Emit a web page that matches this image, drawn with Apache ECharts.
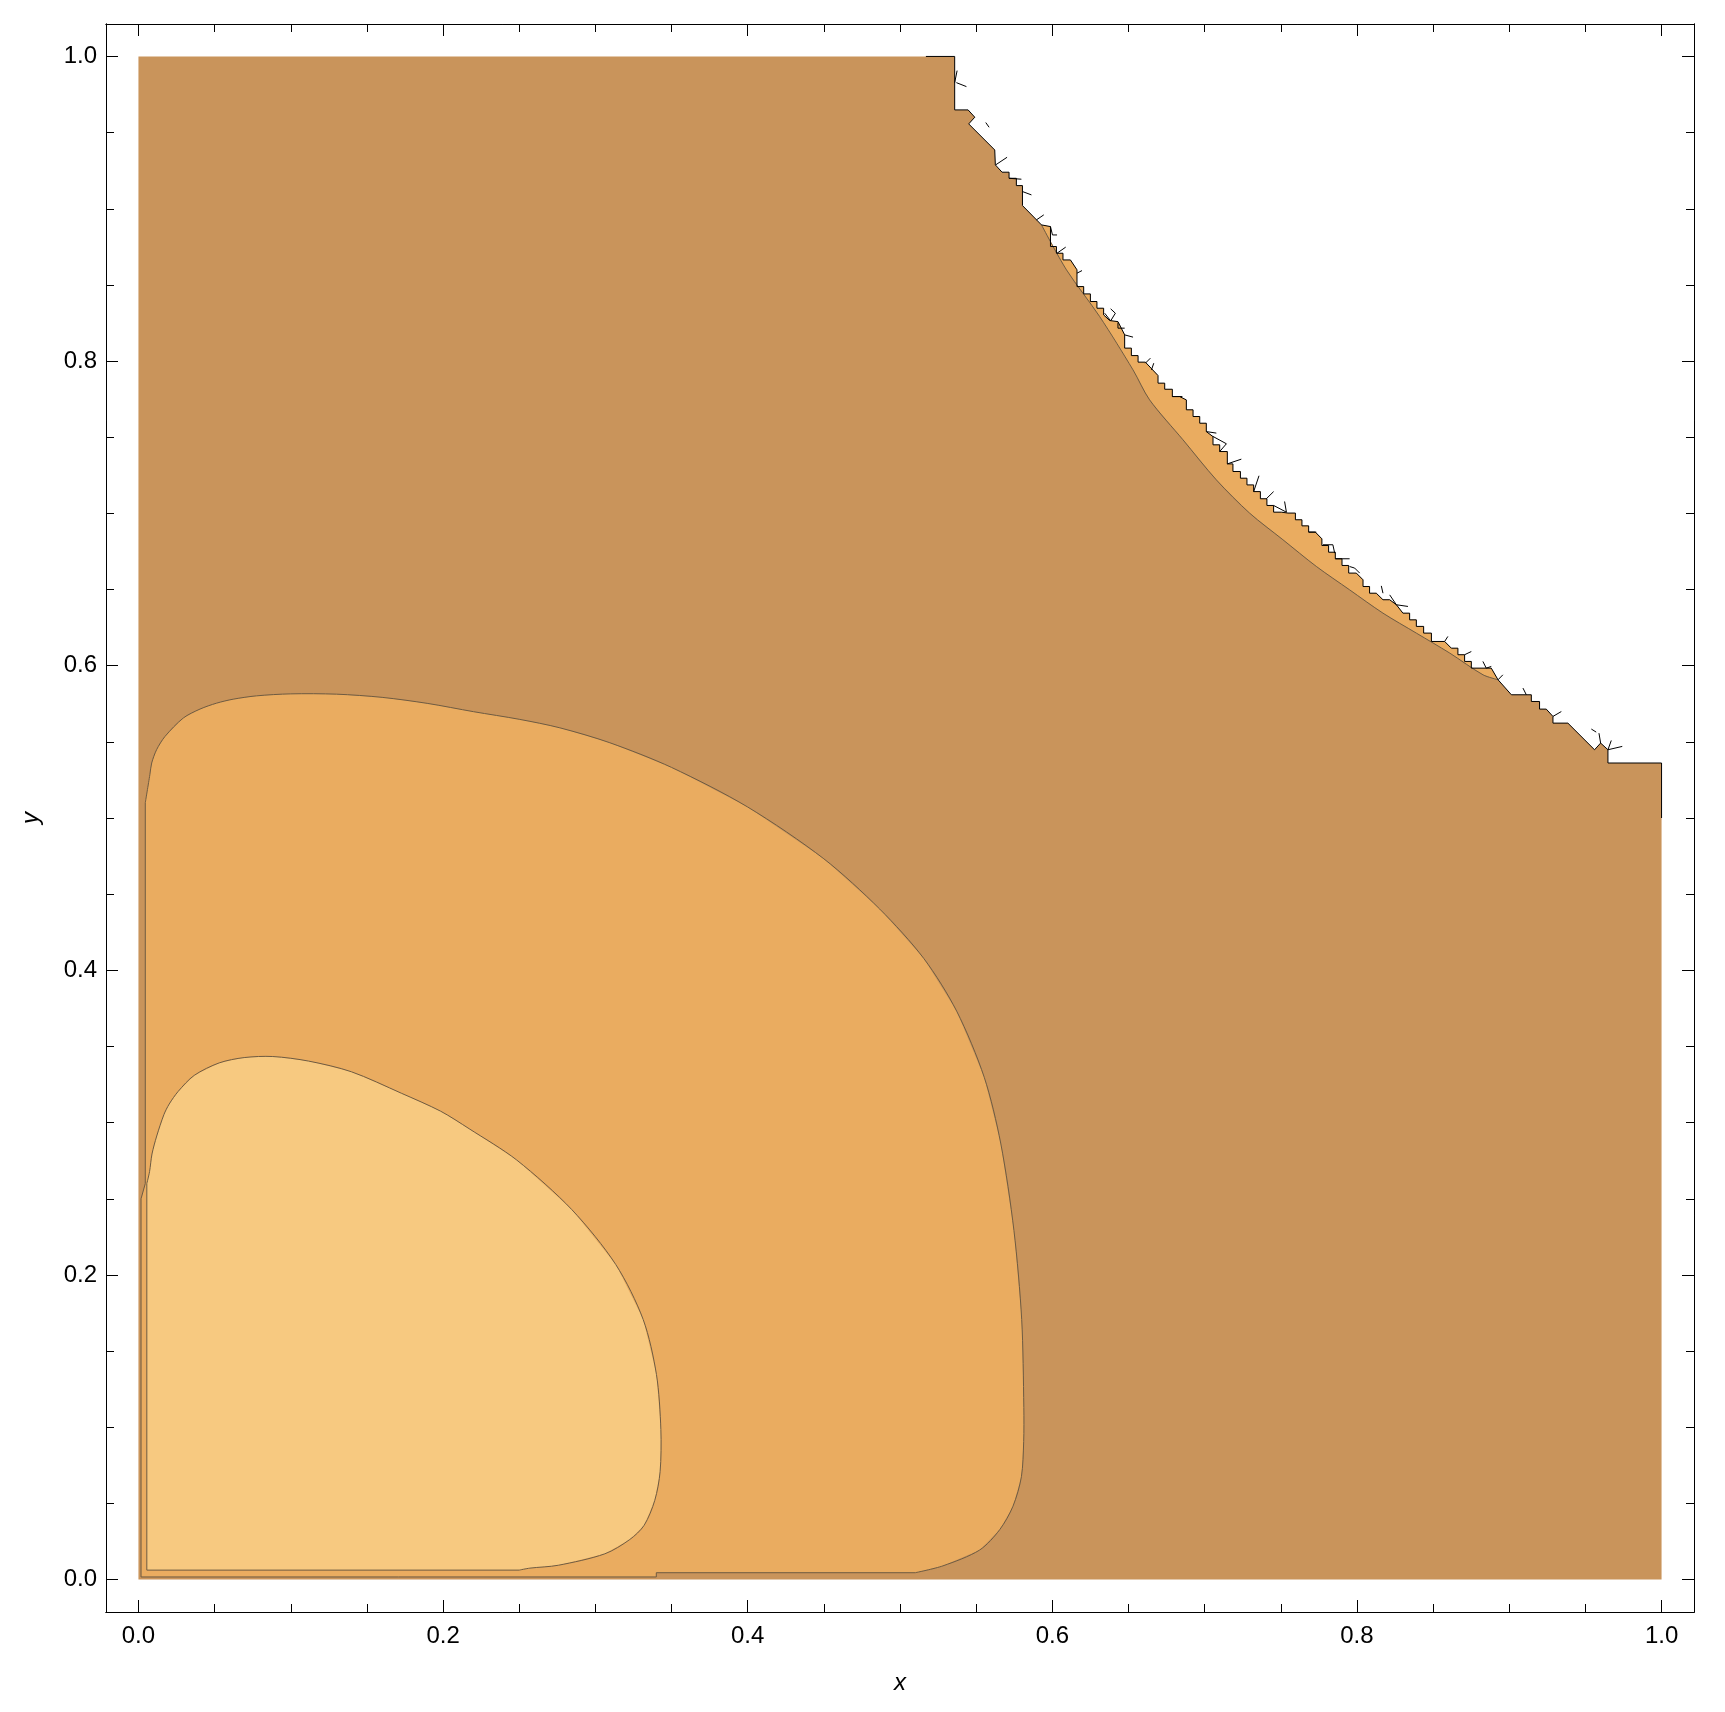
<!DOCTYPE html>
<html>
<head>
<meta charset="utf-8">
<title>contour</title>
<script src="https://cdn.jsdelivr.net/npm/echarts@6/dist/echarts.min.js"></script>
<style>
  html, body { margin: 0; padding: 0; background: #fff; }
  #chart { width: 1725px; height: 1712px; }
</style>
</head>
<body>
<div id="chart"></div>
<script>
// tick positions
const majorTicks = [0, 0.2, 0.4, 0.6, 0.8, 1.0]
const minorTicks = [0.05, 0.1, 0.15, 0.25, 0.3, 0.35, 0.45, 0.5, 0.55, 0.65, 0.7, 0.75, 0.85, 0.9, 0.95]
const tickLabels = ['0.0', '0.2', '0.4', '0.6', '0.8', '1.0']

// edge of the defined region (upper right is undefined)
const boundary = [
  [0.5359, 1.0], [0.5359, 0.9649], [0.5447, 0.9649], [0.5491, 0.9601], [0.5451, 0.9557],
  [0.5622, 0.9386], [0.5626, 0.9288], [0.567, 0.924], [0.5716, 0.924], [0.5716, 0.92],
  [0.5764, 0.92], [0.5764, 0.9152], [0.5804, 0.9152], [0.5804, 0.9021], [0.5929, 0.8894],
  [0.5988, 0.8883], [0.5988, 0.8752], [0.6027, 0.8752], [0.6027, 0.8708], [0.607, 0.8708],
  [0.607, 0.8664], [0.6119, 0.8664], [0.6162, 0.8599], [0.6162, 0.8489], [0.6206, 0.8489],
  [0.6206, 0.8441], [0.625, 0.8441], [0.625, 0.8391], [0.6293, 0.8391], [0.6293, 0.8347],
  [0.6337, 0.8347], [0.6337, 0.8303], [0.6377, 0.8266], [0.6431, 0.8259], [0.6475, 0.8172],
  [0.6475, 0.8085], [0.6519, 0.8085], [0.6519, 0.8036], [0.6563, 0.8036], [0.6563, 0.7993],
  [0.6611, 0.7993], [0.6694, 0.7905], [0.6694, 0.7855], [0.6738, 0.7855], [0.6738, 0.7815],
  [0.6788, 0.7815], [0.6788, 0.7767], [0.6836, 0.7767], [0.688, 0.7745], [0.688, 0.768],
  [0.6924, 0.768], [0.6924, 0.7636], [0.6968, 0.7636], [0.6968, 0.7592], [0.7011, 0.7592],
  [0.7011, 0.7537], [0.7055, 0.7504], [0.7055, 0.745], [0.7099, 0.745], [0.7099, 0.7406],
  [0.7149, 0.7406], [0.7149, 0.7325], [0.7186, 0.7325], [0.7186, 0.7275], [0.7235, 0.7275],
  [0.7235, 0.7231], [0.7278, 0.7231], [0.7278, 0.7187], [0.7322, 0.7187], [0.7322, 0.7143],
  [0.7366, 0.7143], [0.7366, 0.7096], [0.7409, 0.7096], [0.7409, 0.7052], [0.7453, 0.7052],
  [0.7453, 0.7008], [0.7504, 0.7008], [0.7547, 0.7002], [0.7596, 0.7002], [0.7596, 0.6958],
  [0.7639, 0.6958], [0.7639, 0.6918], [0.7683, 0.6918], [0.7683, 0.6877], [0.7727, 0.6877],
  [0.777, 0.6833], [0.777, 0.6789], [0.7814, 0.6789], [0.7814, 0.6745], [0.7858, 0.6745],
  [0.7858, 0.6702], [0.7902, 0.6702], [0.7902, 0.6658], [0.7946, 0.6658], [0.7946, 0.6608],
  [0.7996, 0.6608], [0.804, 0.6564], [0.804, 0.652], [0.8083, 0.652], [0.8083, 0.6476],
  [0.8127, 0.6476], [0.8171, 0.6433], [0.8215, 0.6433], [0.8259, 0.64], [0.8302, 0.6345],
  [0.8346, 0.6345], [0.8346, 0.6301], [0.839, 0.6301], [0.839, 0.6258], [0.8438, 0.6258],
  [0.8438, 0.6214], [0.8489, 0.6214], [0.8489, 0.6159], [0.8576, 0.6159], [0.862, 0.6115],
  [0.8663, 0.6115], [0.8663, 0.6072], [0.8707, 0.6072], [0.8707, 0.6028], [0.8751, 0.6028],
  [0.8751, 0.5984], [0.8882, 0.5984], [0.8926, 0.5908], [0.9014, 0.5809], [0.9145, 0.5809],
  [0.9145, 0.5765], [0.9199, 0.5765], [0.9199, 0.5715], [0.9243, 0.5715], [0.9287, 0.5667],
  [0.9287, 0.5623], [0.9385, 0.5623], [0.956, 0.5448], [0.96, 0.5492], [0.9648, 0.5448],
  [0.9648, 0.5361], [1.0, 0.5361]
]

// short black strokes sticking out of the region edge
const edgeStrokes = [
  [[0.5375, 0.9907], [0.5359, 0.9828]], [[0.537, 0.9828], [0.5436, 0.9802]],
  [[0.5563, 0.9566], [0.5585, 0.9535]], [[0.5628, 0.9288], [0.5703, 0.9338]],
  [[0.5716, 0.92], [0.5797, 0.9194]], [[0.5804, 0.9113], [0.5863, 0.9091]],
  [[0.5896, 0.8927], [0.5944, 0.896]], [[0.5988, 0.8883], [0.6001, 0.8828], [0.6031, 0.8828]],
  [[0.6031, 0.8708], [0.6088, 0.8748]], [[0.6162, 0.8577], [0.6195, 0.8594]],
  [[0.6344, 0.8314], [0.6383, 0.8264], [0.6414, 0.8314], [0.6383, 0.8343]],
  [[0.6431, 0.8253], [0.6431, 0.8216], [0.6475, 0.8216]], [[0.6475, 0.8172], [0.653, 0.8157]],
  [[0.6611, 0.7986], [0.6644, 0.8019]], [[0.6651, 0.7942], [0.6666, 0.7986]],
  [[0.6788, 0.7767], [0.6854, 0.7767]], [[0.7011, 0.7537], [0.7077, 0.7527]],
  [[0.7055, 0.7505], [0.7143, 0.7457], [0.7099, 0.7406]], [[0.7149, 0.7325], [0.7241, 0.7356]],
  [[0.7322, 0.7143], [0.7357, 0.7247]], [[0.7405, 0.7096], [0.7453, 0.7143]],
  [[0.7453, 0.7052], [0.7537, 0.7008], [0.7525, 0.7078]], [[0.7683, 0.6877], [0.7733, 0.6877]],
  [[0.7777, 0.6794], [0.7842, 0.6794], [0.7854, 0.6739]], [[0.7858, 0.6702], [0.7952, 0.6702]],
  [[0.7952, 0.6651], [0.7985, 0.6641], [0.8018, 0.6608]], [[0.816, 0.6524], [0.8171, 0.6476]],
  [[0.8215, 0.6465], [0.8259, 0.64], [0.8335, 0.6389]], [[0.8576, 0.6159], [0.8597, 0.6192]],
  [[0.8707, 0.6072], [0.8751, 0.6093]], [[0.8827, 0.6028], [0.8849, 0.5984], [0.8882, 0.5995]],
  [[0.8926, 0.5907], [0.8958, 0.594]], [[0.909, 0.5853], [0.9112, 0.5809]],
  [[0.9287, 0.5667], [0.9342, 0.5699]], [[0.9539, 0.5584], [0.9571, 0.5564]],
  [[0.9589, 0.5557], [0.96, 0.5492]], [[0.9648, 0.5448], [0.967, 0.5509]],
  [[0.9648, 0.5448], [0.9742, 0.547]]
]

// contour between dark and mid level along the edge of the region
const bandContour = [
  [0.5929, 0.8894], [0.6093, 0.8599], [0.6311, 0.8292], [0.653, 0.7942], [0.6639, 0.7745],
  [0.6858, 0.7483], [0.7077, 0.722], [0.7295, 0.7002], [0.7514, 0.6827], [0.7733, 0.6652],
  [0.7952, 0.6498], [0.8171, 0.6345], [0.839, 0.6214], [0.8609, 0.6083], [0.8828, 0.594],
  [0.8926, 0.5908]
]

// contour between dark and mid level (curved part, then the part hugging the axes)
const midCurve = [
  [0.0045, 0.51], [0.0075, 0.5284], [0.0087, 0.5361], [0.0119, 0.5448], [0.0174, 0.5535],
  [0.0294, 0.5656], [0.0404, 0.5715], [0.0513, 0.5754], [0.0622, 0.578], [0.0776, 0.5802],
  [0.10, 0.5815], [0.13, 0.5813], [0.16, 0.5792], [0.19, 0.5752], [0.22, 0.5698],
  [0.25, 0.5648], [0.2767, 0.5592], [0.3095, 0.5494], [0.35, 0.5332], [0.40, 0.5072],
  [0.45, 0.4732], [0.4867, 0.4402], [0.5156, 0.4078], [0.5372, 0.3732], [0.5553, 0.3298],
  [0.5661, 0.2866], [0.5748, 0.2292], [0.5799, 0.1707], [0.5813, 0.1129],
  [0.5812, 0.0906], [0.5797, 0.0675], [0.5742, 0.0482], [0.5655, 0.0328],
  [0.5523, 0.0194], [0.5282, 0.009], [0.51, 0.0045]
]
const midEdge = [
  [0.51, 0.0045], [0.34, 0.0045], [0.34, 0.0017], [0.0017, 0.0017], [0.0017, 0.25],
  [0.0045, 0.26], [0.0045, 0.51]
]

// contour between mid and light level
const lightCurve = [
  [0.0055, 0.26], [0.0073, 0.2678], [0.0089, 0.2794], [0.012, 0.2912],
  [0.0167, 0.3052], [0.0202, 0.3122], [0.0261, 0.3205], [0.0366, 0.331], [0.053, 0.3392],
  [0.0694, 0.3427], [0.0882, 0.3434], [0.1117, 0.3404], [0.1398, 0.3334], [0.1726, 0.3193],
  [0.1984, 0.3075], [0.2171, 0.296], [0.2484, 0.2754], [0.2845, 0.2429], [0.3134, 0.2068],
  [0.3314, 0.1707], [0.3401, 0.1346], [0.343, 0.0985], [0.3425, 0.0708], [0.339, 0.052],
  [0.332, 0.0356], [0.3226, 0.0263], [0.3062, 0.0169], [0.2757, 0.0094], [0.257, 0.0075],
  [0.25, 0.0062]
]
const lightEdge = [[0.25, 0.0062], [0.0055, 0.0062], [0.0055, 0.26]]

const darkColor = '#c9945b'
const midColor = '#eaac60'
const lightColor = '#f7c980'
const lineColor = '#6e5b42'
const font = "'Liberation Sans', Arial, sans-serif"

const darkRegion = [[0, 0], [0, 1]].concat(boundary, [[1.0, 0]])
const bandRegion = bandContour.concat(
  boundary.filter(p => p[0] >= 0.5929 && p[0] <= 0.8926).reverse()
)
const midRegion = midCurve.concat(midEdge)
const lightRegion = lightCurve.concat(lightEdge)
const edgeLine = [[0.517, 1.0]].concat(boundary, [[1.0, 0.5]])

function shapeSeries (name, items, makeEl) {
  return {
    name: name,
    type: 'custom',
    coordinateSystem: 'cartesian2d',
    data: items.map((d, i) => i),
    silent: true,
    renderItem: function (params, api) {
      const pts = items[params.dataIndex].map(p => api.coord(p))
      return makeEl(pts)
    }
  }
}

function fill (name, pts, color) {
  return shapeSeries(name, [pts], p => ({
    type: 'polygon', shape: { points: p }, style: { fill: color, stroke: 'none' }
  }))
}

function lines (name, list, color, smooth) {
  return shapeSeries(name, list, p => ({
    type: 'polyline', shape: { points: p, smooth: smooth || 0 },
    style: { fill: 'none', stroke: color, lineWidth: 1 }
  }))
}

function axisPart (dim, position, ticks, len, labels, extra) {
  return Object.assign({
    type: 'value',
    position: position,
    min: -0.0213,
    max: 1.0213,
    axisLine: { show: true, onZero: false, lineStyle: { color: '#000', width: 1 } },
    splitLine: { show: false },
    axisTick: { show: true, inside: true, length: len, customValues: ticks, lineStyle: { color: '#000', width: 1 } },
    axisLabel: labels
      ? { show: true, customValues: majorTicks, formatter: v => tickLabels[majorTicks.indexOf(Math.round(v * 10) / 10)] || v.toFixed(1),
          fontSize: 24, color: '#000', fontFamily: font, margin: dim === 'x' ? 12 : 9 }
      : { show: false }
  }, extra || {})
}

const chart = echarts.init(document.getElementById('chart'), null, { renderer: 'canvas' })

chart.setOption({
  animation: false,
  backgroundColor: '#fff',
  grid: { left: 106, top: 24, width: 1588, height: 1588, containLabel: false },
  xAxis: [
    axisPart('x', 'bottom', majorTicks, 12, true, {
      name: 'x', nameLocation: 'middle', nameGap: 59,
      nameTextStyle: { fontSize: 24, fontStyle: 'italic', color: '#000', fontFamily: font }
    }),
    axisPart('x', 'bottom', minorTicks, 8, false),
    axisPart('x', 'top', majorTicks, 12, false),
    axisPart('x', 'top', minorTicks, 8, false)
  ],
  yAxis: [
    axisPart('y', 'left', majorTicks, 12, true, {
      name: 'y', nameLocation: 'middle', nameGap: 63,
      nameTextStyle: { fontSize: 24, fontStyle: 'italic', color: '#000', fontFamily: font }
    }),
    axisPart('y', 'left', minorTicks, 8, false),
    axisPart('y', 'right', majorTicks, 12, false),
    axisPart('y', 'right', minorTicks, 8, false)
  ],
  series: [
    fill('dark', darkRegion, darkColor),
    fill('band', bandRegion, midColor),
    fill('mid', midRegion, midColor),
    fill('light', lightRegion, lightColor),
    lines('contours', [bandContour, midCurve, lightCurve], lineColor, 0.3),
    lines('axis contours', [midEdge, lightEdge], lineColor, 0),
    lines('edge', [edgeLine], '#000', 0),
    lines('edge strokes', edgeStrokes, '#000', 0)
  ]
})
</script>
</body>
</html>
